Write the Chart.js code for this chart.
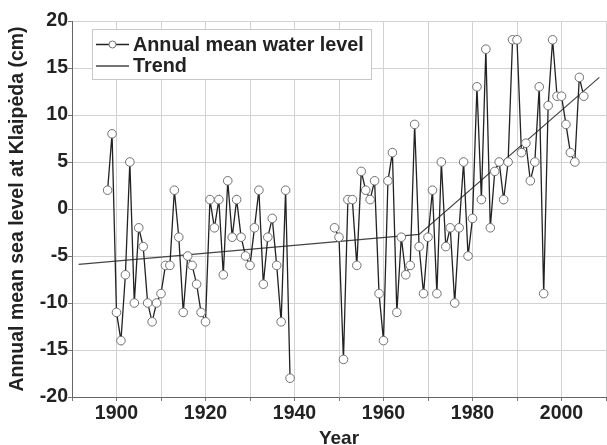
<!DOCTYPE html>
<html>
<head>
<meta charset="utf-8">
<script src="https://cdn.jsdelivr.net/npm/chart.js@4"></script>
<style>
html,body{margin:0;padding:0;background:#fff;}
canvas{display:block;}
</style>
</head>
<body>
<canvas id="c" width="607" height="445"></canvas>
<script>
// ---- data ----
const years = [1898,1899,1900,1901,1902,1903,1904,1905,1906,1907,1908,1909,1910,1911,1912,1913,1914,1915,1916,1917,1918,1919,1920,1921,1922,1923,1924,1925,1926,1927,1928,1929,1930,1931,1932,1933,1934,1935,1936,1937,1938,1939,
  1944,
  1949,1950,1951,1952,1953,1954,1955,1956,1957,1958,1959,1960,1961,1962,1963,1964,1965,1966,1967,1968,1969,1970,1971,1972,1973,1974,1975,1976,1977,1978,1979,1980,1981,1982,1983,1984,1985,1986,1987,1988,1989,1990,1991,1992,1993,1994,1995,1996,1997,1998,1999,2000,2001,2002,2003,2004,2005];
const waterLevel = [2,8,-11,-14,-7,5,-10,-2,-4,-10,-12,-10,-9,-6,-6,2,-3,-11,-5,-6,-8,-11,-12,1,-2,1,-7,3,-3,1,-3,-5,-6,-2,2,-8,-3,-1,-6,-12,2,-18,
  null,
  -2,-3,-16,1,1,-6,4,2,1,3,-9,-14,3,6,-11,-3,-7,-6,9,-4,-9,-3,2,-9,5,-4,-2,-10,-2,5,-5,-1,13,1,17,-2,4,5,1,5,18,18,6,7,3,5,13,-9,11,18,12,12,9,6,5,14,12];
const trendYears = [1891.5, 1968, 2008.5];
const trendValues = [-5.9, -2.7, 14];
const seriesLabels = ['Annual mean water level', 'Trend'];
const xTickLabels = [1900,1920,1940,1960,1980,2000];
const yTicks = [-20,-15,-10,-5,0,5,10,15,20];

const FONT = '"Liberation Sans", Arial, sans-serif';

const legendPlugin = {
  id: 'boxLegend',
  beforeDatasetsDraw(chart) {
    const ctx = chart.ctx;
    const x0 = 92, y0 = 29, w = 279, h = 50;
    ctx.save();
    ctx.fillStyle = '#fff';
    ctx.fillRect(x0, y0, w, h);
    ctx.strokeStyle = '#c8c8c8';
    ctx.lineWidth = 1;
    ctx.strokeRect(x0 + 0.5, y0 + 0.5, w, h);
    const rows = [44.5, 66];
    chart.data.datasets.forEach((ds, i) => {
      const y = rows[i];
      ctx.strokeStyle = ds.borderColor;
      ctx.lineWidth = 1.3;
      ctx.beginPath();
      ctx.moveTo(96, y); ctx.lineTo(129, y);
      ctx.stroke();
      if (ds.pointRadius > 0) {
        ctx.beginPath();
        ctx.arc(112.5, y, 3.5, 0, Math.PI * 2);
        ctx.fillStyle = '#fff';
        ctx.fill();
        ctx.strokeStyle = ds.pointBorderColor;
        ctx.lineWidth = 1;
        ctx.stroke();
      }
      ctx.fillStyle = '#222';
      ctx.font = 'bold 19.8px ' + FONT;
      ctx.textBaseline = 'middle';
      ctx.textAlign = 'left';
      ctx.fillText(ds.label, 133, y + 1);
    });
    ctx.restore();
  }
};

new Chart(document.getElementById('c'), {
  type: 'line',
  data: {
    datasets: [
      {
        label: seriesLabels[0],
        data: years.map((y, i) => ({x: y, y: waterLevel[i]})),
        borderColor: '#222',
        borderWidth: 1.3,
        pointRadius: 4.3,
        pointBackgroundColor: '#fff',
        pointBorderColor: '#707070',
        pointBorderWidth: 1,
        spanGaps: false,
        tension: 0,
        order: 1
      },
      {
        label: seriesLabels[1],
        data: trendYears.map((y, i) => ({x: y, y: trendValues[i]})),
        borderColor: '#444',
        borderWidth: 1.2,
        pointRadius: 0,
        tension: 0,
        order: 2
      }
    ]
  },
  options: {
    responsive: false,
    animation: false,
    devicePixelRatio: 1,
    layout: { autoPadding: false, padding: { top: 21, right: -3, left: 0, bottom: 0 } },
    plugins: { legend: { display: false }, tooltip: { enabled: false } },
    scales: {
      x: {
        type: 'linear',
        min: 1890, max: 2010,
        afterBuildTicks: s => { const t = []; for (let v = 1890; v <= 2010; v += 10) t.push({value: v}); s.ticks = t; },
        ticks: {
          autoSkip: false,
          maxRotation: 0,
          callback: v => xTickLabels.includes(v) ? String(v) : '',
          color: '#222',
          font: { family: FONT, size: 19.5, weight: 'bold' },
          padding: 1
        },
        grid: { color: '#d2d2d2', tickLength: 4, tickColor: '#777' },
        border: { color: '#666', width: 1 },
        title: { display: true, text: 'Year', color: '#222', font: { family: FONT, size: 19, weight: 'bold', lineHeight: 0.8 }, padding: { top: 0, bottom: -1 } },
        afterFit: s => { s.height = 48; }
      },
      y: {
        min: -20, max: 20,
        afterBuildTicks: s => { s.ticks = yTicks.map(v => ({value: v})); },
        ticks: {
          color: '#222',
          font: { family: FONT, size: 19.5, weight: 'bold' },
          padding: 0
        },
        grid: { color: '#d2d2d2', tickLength: 4, tickColor: '#777' },
        border: { color: '#666', width: 1 },
        title: { display: true, text: 'Annual mean sea level at Klaipėda (cm)', color: '#222', font: { family: FONT, size: 19.5, weight: 'bold' }, padding: { top: 6, bottom: 0 } },
        afterFit: s => { s.width = 72; }
      }
    }
  },
  plugins: [legendPlugin]
});
</script>
</body>
</html>
